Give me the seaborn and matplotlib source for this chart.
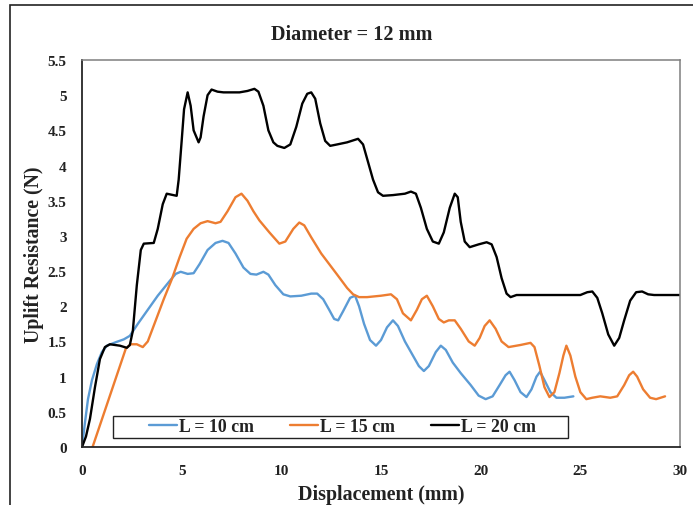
import matplotlib
matplotlib.use("Agg")
import matplotlib.pyplot as plt
from matplotlib.patches import Rectangle
import seaborn as sns
import pandas as pd

# ---- data ----
x_10 = [0, 0.15, 0.3, 0.5, 0.75, 1.0, 1.25, 1.7, 2.1, 2.4, 2.8, 3.25, 3.8, 4.4, 4.7, 4.95, 5.3, 5.6, 5.9,
        6.3, 6.7, 7.05, 7.35, 7.7, 8.1, 8.45, 8.75, 9.1, 9.35, 9.7, 10.1, 10.45, 11.0, 11.5, 11.8, 12.1,
        12.4, 12.65, 12.85, 13.1, 13.45, 13.7, 13.9, 14.15, 14.45, 14.75, 15.0, 15.3, 15.6, 15.85, 16.2,
        16.6, 16.9, 17.15, 17.4, 17.75, 18.0, 18.25, 18.6, 19.0, 19.5, 19.9, 20.25, 20.6, 20.95, 21.25,
        21.45, 21.7, 22.0, 22.3, 22.55, 22.8, 22.98, 23.2, 23.5, 23.8, 24.2, 24.65]
y_10 = [0, 0.35, 0.68, 0.95, 1.18, 1.35, 1.44, 1.49, 1.53, 1.58, 1.75, 1.93, 2.15, 2.36, 2.46, 2.49, 2.46, 2.47, 2.6,
        2.8, 2.9, 2.93, 2.9, 2.75, 2.55, 2.46, 2.45, 2.49, 2.45, 2.3, 2.17, 2.14, 2.15, 2.18, 2.18, 2.1,
        1.95, 1.82, 1.8, 1.93, 2.12, 2.15, 2.0, 1.75, 1.52, 1.44, 1.52, 1.7, 1.8, 1.72, 1.5,
        1.3, 1.15, 1.08, 1.15, 1.35, 1.44, 1.38, 1.2, 1.05, 0.88, 0.73, 0.68, 0.72, 0.88, 1.02,
        1.07, 0.95, 0.78, 0.71, 0.82, 1.0, 1.07, 0.95, 0.78, 0.7, 0.7, 0.72]

x_15 = [0.53, 2.2, 2.45, 2.75, 3.05, 3.3, 3.7, 4.1, 4.5, 4.9, 5.25, 5.6, 5.95, 6.3, 6.7, 6.95, 7.3, 7.7, 8.0,
        8.3, 8.6, 8.9, 9.4, 9.9, 10.2, 10.6, 10.9, 11.15, 11.5, 12.0, 12.8, 13.3, 13.6, 13.9, 14.3, 15.0,
        15.5, 15.8, 16.1, 16.5, 16.8, 17.05, 17.3, 17.6, 17.9, 18.15, 18.4, 18.7, 19.0, 19.4, 19.7, 19.95,
        20.2, 20.45, 20.75, 21.05, 21.4, 22.0, 22.5, 22.7, 22.95, 23.2, 23.45, 23.7, 23.95, 24.15, 24.3,
        24.5, 24.75, 25.0, 25.3, 25.6, 26.0, 26.5, 26.85, 27.2, 27.45, 27.65, 27.85, 28.15, 28.5, 28.8, 29.25]
y_15 = [0, 1.4, 1.46, 1.46, 1.42, 1.5, 1.8, 2.1, 2.38, 2.7, 2.96, 3.1, 3.18, 3.21, 3.18, 3.2, 3.35, 3.55, 3.6,
        3.5, 3.35, 3.22, 3.05, 2.89, 2.92, 3.1, 3.19, 3.15, 2.98, 2.75, 2.45, 2.26, 2.17, 2.13, 2.13, 2.15,
        2.17, 2.1, 1.9, 1.8, 1.95, 2.1, 2.15, 2.0, 1.82, 1.77, 1.8, 1.8, 1.68, 1.5, 1.44, 1.55,
        1.72, 1.8, 1.68, 1.5, 1.42, 1.45, 1.48, 1.42, 1.15, 0.85, 0.71, 0.78, 1.05, 1.3, 1.44,
        1.3, 1.0, 0.78, 0.68, 0.7, 0.72, 0.7, 0.72, 0.88, 1.02, 1.07, 1.0, 0.82, 0.7, 0.68, 0.72]

x_20 = [0, 0.2, 0.4, 0.65, 0.9, 1.15, 1.4, 1.9, 2.25, 2.4, 2.55, 2.75, 2.95, 3.1, 3.6, 3.8, 4.05, 4.25, 4.75,
        4.85, 5.0, 5.12, 5.3, 5.45, 5.6, 5.85, 5.95, 6.1, 6.3, 6.5, 6.8, 7.1, 7.9, 8.3, 8.65, 8.85, 9.1,
        9.35, 9.6, 9.8, 10.15, 10.45, 10.75, 11.05, 11.3, 11.5, 11.7, 11.95, 12.2, 12.45, 12.8, 13.3,
        13.85, 14.1, 14.35, 14.6, 14.85, 15.1, 15.6, 16.2, 16.5, 16.75, 17.0, 17.3, 17.6, 17.9, 18.15,
        18.45, 18.7, 18.85, 19.0, 19.2, 19.45, 19.9, 20.3, 20.55, 20.8, 21.05, 21.3, 21.5, 21.8, 22.0,
        25.0, 25.35, 25.6, 25.85, 26.1, 26.4, 26.7, 26.95, 27.2, 27.5, 27.8, 28.1, 28.4, 28.7, 30]
y_20 = [0, 0.15, 0.4, 0.85, 1.25, 1.42, 1.46, 1.44, 1.41, 1.45, 1.65, 2.3, 2.8, 2.89, 2.9, 3.1, 3.45, 3.6, 3.57,
        3.8, 4.35, 4.8, 5.04, 4.85, 4.5, 4.33, 4.4, 4.7, 5.0, 5.08, 5.05, 5.04, 5.04, 5.06, 5.09, 5.05, 4.85,
        4.5, 4.33, 4.28, 4.25, 4.3, 4.55, 4.88, 5.02, 5.04, 4.95, 4.6, 4.35, 4.28, 4.3, 4.33,
        4.38, 4.3, 4.05, 3.8, 3.62, 3.57, 3.58, 3.6, 3.63, 3.6, 3.4, 3.1, 2.92, 2.89, 3.05,
        3.4, 3.6, 3.55, 3.2, 2.92, 2.84, 2.88, 2.91, 2.88, 2.7, 2.4, 2.18, 2.13, 2.16, 2.16,
        2.16, 2.2, 2.21, 2.12, 1.9, 1.6, 1.44, 1.55, 1.8, 2.08, 2.2, 2.21, 2.17, 2.16, 2.16]

labels = ["L = 10 cm", "L = 15 cm", "L = 20 cm"]
colors = ["#5B9BD5", "#ED7D31", "#000000"]
x_ticks = [0, 5, 10, 15, 20, 25, 30]
y_ticks = [0, 0.5, 1, 1.5, 2, 2.5, 3, 3.5, 4, 4.5, 5, 5.5]
y_tick_labels = ["0", "0.5", "1", "1.5", "2", "2.5", "3", "3.5", "4", "4.5", "5", "5.5"]

frames = []
for lab, xs, ys in zip(labels, [x_10, x_15, x_20], [y_10, y_15, y_20]):
    frames.append(pd.DataFrame({"Displacement": xs, "Resistance": ys, "L": lab}))
df = pd.concat(frames, ignore_index=True)

sns.set_theme(style="white")
plt.rcParams["font.family"] = ["Liberation Serif", "DejaVu Serif"]
plt.rcParams["font.weight"] = "bold"

fig = plt.figure(figsize=(6.93, 5.06), dpi=100)
ax = fig.add_axes([82 / 693, 1 - 448 / 506, 598 / 693, 387 / 506])

sns.lineplot(data=df, x="Displacement", y="Resistance", hue="L", hue_order=labels,
             palette=colors, sort=False, estimator=None, linewidth=1.7, ax=ax)

ax.set_xlim(0, 30)
ax.set_ylim(0, 5.5)
ax.set_xticks(x_ticks)
ax.set_xticklabels([str(t) for t in x_ticks])
ax.set_yticks(y_ticks)
ax.set_yticklabels(y_tick_labels)
ax.tick_params(axis="both", length=0, labelsize=11, colors="#222222")
ax.tick_params(axis="y", pad=11)
ax.tick_params(axis="x", pad=12)
for t in ax.get_xticklabels() + ax.get_yticklabels():
    t.set_fontweight("bold")

ax.set_xlabel("Displacement (mm)", fontsize=14.4, fontweight="bold", color="#222222", labelpad=5)
ax.set_ylabel("Uplift Resistance (N)", fontsize=14.2, fontweight="bold", color="#222222", labelpad=2.5)

for side in ["left", "bottom"]:
    ax.spines[side].set_color("#262626")
    ax.spines[side].set_linewidth(1.3)
for side in ["top", "right"]:
    ax.spines[side].set_color("#7f7f7f")
    ax.spines[side].set_linewidth(1.1)

# legend: centered entries inside a separately drawn box
box_l, box_r, box_b, box_t = 113, 568, 439, 417   # pixel coords
to_ax_x = lambda px: (px - 82) / 598
to_ax_y = lambda py: (448 - py) / 387
ax.add_patch(Rectangle((to_ax_x(box_l), to_ax_y(box_b)), to_ax_x(box_r) - to_ax_x(box_l),
                       to_ax_y(box_t) - to_ax_y(box_b), transform=ax.transAxes, fill=True,
                       facecolor="white", edgecolor="#222222", linewidth=1.0, zorder=4))
leg = ax.legend(loc="center", bbox_to_anchor=(to_ax_x((box_l + box_r) / 2 + 2), to_ax_y(428)),
                ncol=3, frameon=False, handlelength=1.6, handletextpad=0.12, columnspacing=2.0,
                borderaxespad=0, borderpad=0,
                prop={"family": "Liberation Serif", "weight": "bold", "size": 12.8})
leg.set_zorder(5)
for line in leg.get_lines():
    line.set_linewidth(1.7)
for t in leg.get_texts():
    t.set_color("#222222")

fig.text(352 / 693, 1 - 35 / 506, "Diameter = 12 mm", ha="center", va="center",
         fontsize=14.6, fontweight="bold", color="#222222")

fig.patches.append(Rectangle((10 / 693, -0.05), 1.2, 1.05 - 6 / 506, transform=fig.transFigure,
                             fill=False, edgecolor="#222222", linewidth=1.2, clip_on=False))

fig.savefig("out.png", dpi=100)
